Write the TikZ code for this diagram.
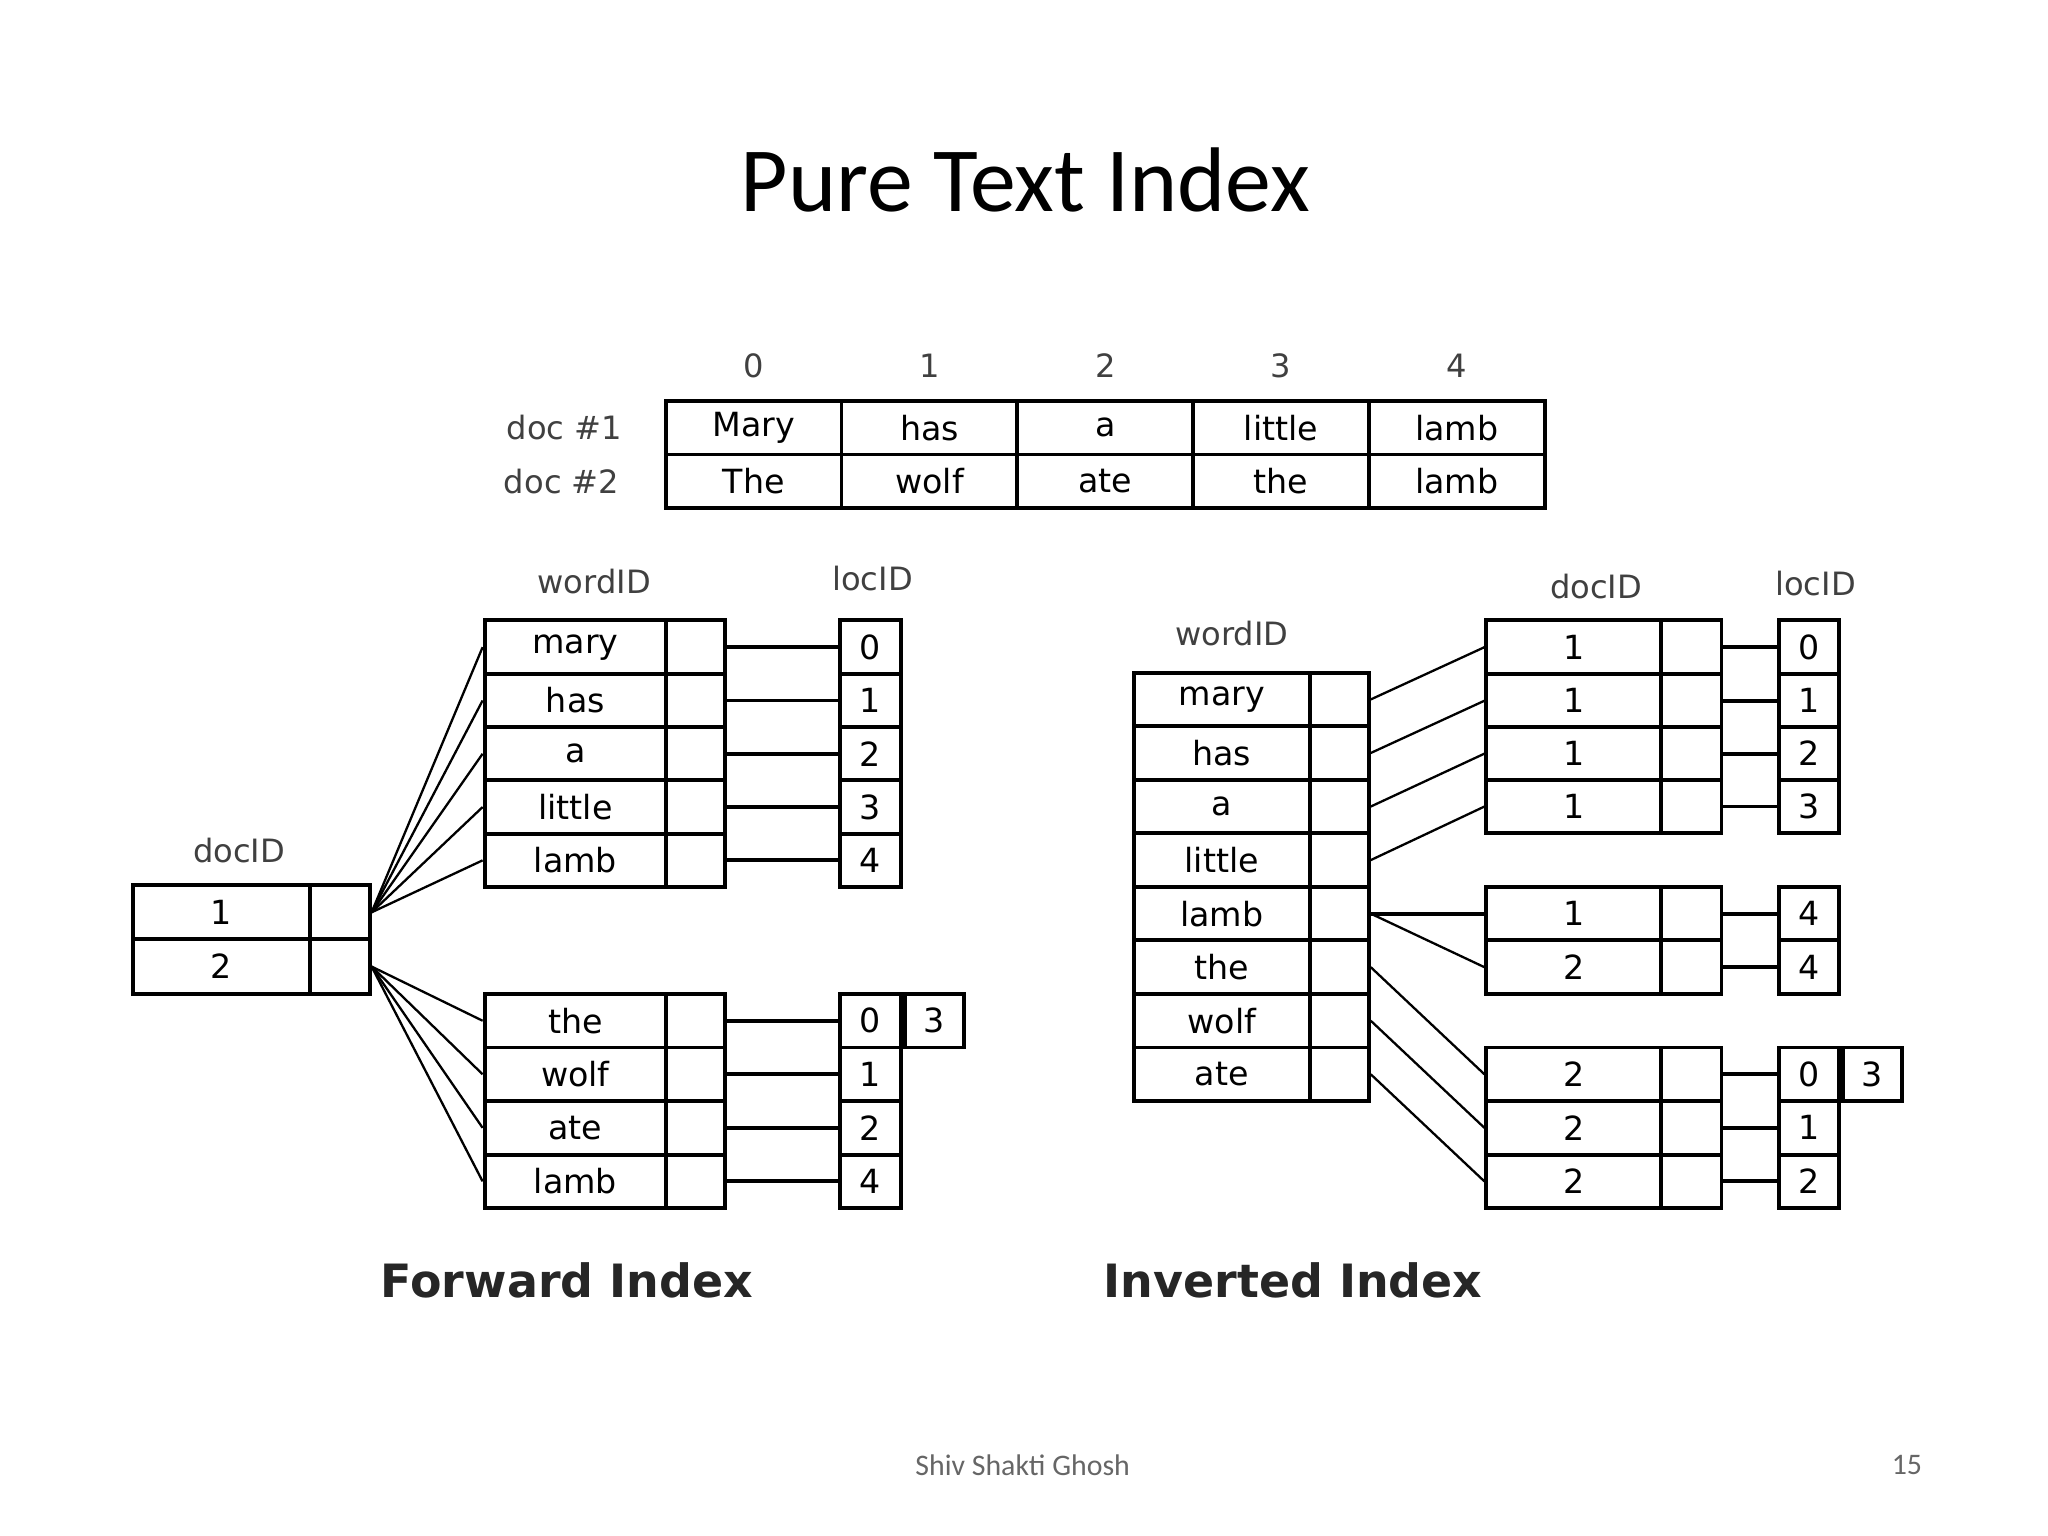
\documentclass[tikz,border=0pt]{standalone}
\usepackage{fontspec}
\setmainfont{DejaVu Sans}
\newfontfamily\carfont{Carlito}
\begin{document}
\begin{tikzpicture}[x=0.02cm,y=-0.02cm,
  cell/.style={draw,line width=1.7pt,inner sep=0pt,font=\fontsize{14.5}{14.5}\selectfont},
  lbl/.style={font=\fontsize{14}{14}\selectfont,text=black!75},
  conn/.style={line width=1.7pt},
  fan/.style={line width=1pt}]
\useasboundingbox (0,0) rectangle (1568,1176);
\node[font=\carfont\fontsize{40}{40}\selectfont] (title) at (785,138) {Pure Text Index};
% top table
\foreach \i in {0,...,4} \node[lbl] (ix\i) at ({577+134.6*\i},280) {\i};
\node[lbl] (d1) at (432,327) {doc \#1};
\node[lbl] (d2) at (430,369) {doc \#2};
\foreach \w [count=\i from 0] in {Mary,has,a,little,lamb}
  \node[cell,minimum width=134.6*0.02cm,minimum height=41*0.02cm] (ta\i) at ({577+134.6*\i},327.5) {\w};
\foreach \w [count=\i from 0] in {The,wolf,ate,the,lamb}
  \node[cell,minimum width=134.6*0.02cm,minimum height=41*0.02cm] (tb\i) at ({577+134.6*\i},368.5) {\w};
% forward index
\node[lbl] (fdl) at (183,651) {docID};
\node[lbl] (fwl) at (455,445) {wordID};
\node[lbl] (fll) at (668,443) {locID};
\foreach \n [count=\i] in {1,2}{
  \node[cell,minimum width=135*0.02cm,minimum height=41.5*0.02cm] (fd\i) at (169.5,{698.5+41.5*(\i-1)}) {\n};
  \node[cell,minimum width=46*0.02cm,minimum height=41.5*0.02cm] (fdp\i) at (260,{698.5+41.5*(\i-1)}) {};}
\foreach \w/\l [count=\i] in {mary/0,has/1,a/2,little/3,lamb/4}{
  \node[cell,minimum width=139*0.02cm,minimum height=41*0.02cm] (fa\i) at (440.5,{495.5+40.8*(\i-1)}) {\w};
  \node[cell,minimum width=45*0.02cm,minimum height=41*0.02cm] (fap\i) at (532.5,{495.5+40.8*(\i-1)}) {};
  \node[cell,minimum width=47*0.02cm,minimum height=41*0.02cm] (fal\i) at (666.5,{495.5+40.8*(\i-1)}) {\l};
  \draw[conn] (fap\i.east) -- (fal\i.west);
  \draw[fan] (fdp1.east) -- (fa\i.west);}
\foreach \w/\l [count=\i] in {the/0,wolf/1,ate/2,lamb/4}{
  \node[cell,minimum width=139*0.02cm,minimum height=41*0.02cm] (fb\i) at (440.5,{781.5+41*(\i-1)}) {\w};
  \node[cell,minimum width=45*0.02cm,minimum height=41*0.02cm] (fbp\i) at (532.5,{781.5+41*(\i-1)}) {};
  \node[cell,minimum width=47*0.02cm,minimum height=41*0.02cm] (fbl\i) at (666.5,{781.5+41*(\i-1)}) {\l};
  \draw[conn] (fbp\i.east) -- (fbl\i.west);
  \draw[fan] (fdp2.east) -- (fb\i.west);}
\node[cell,minimum width=45*0.02cm,minimum height=41*0.02cm,anchor=west] (fbx) at (fbl1.east) {3};
% inverted index
\node[lbl] (iwl) at (943,485) {wordID};
\node[lbl] (idl) at (1222,449) {docID};
\node[lbl] (ill) at (1390,447) {locID};
\foreach \w [count=\i] in {mary,has,a,little,lamb,the,wolf,ate}{
  \node[cell,minimum width=135*0.02cm,minimum height=41*0.02cm] (iw\i) at (935.5,{535.5+41*(\i-1)}) {\w};
  \node[cell,minimum width=45*0.02cm,minimum height=41*0.02cm] (iwp\i) at (1025.5,{535.5+41*(\i-1)}) {};}
\foreach \d/\l/\y [count=\i] in {1/0/495.5,1/1/536.5,1/2/577,1/3/617.5,1/4/699.5,2/4/740.5,2/0/822.5,2/1/863.5,2/2/904.5}{
  \node[cell,minimum width=134*0.02cm,minimum height=41*0.02cm] (id\i) at (1205,\y) {\d};
  \node[cell,minimum width=46*0.02cm,minimum height=41*0.02cm] (idp\i) at (1295,\y) {};
  \node[cell,minimum width=46*0.02cm,minimum height=41*0.02cm] (il\i) at (1385,\y) {\l};
  \draw[conn] (idp\i.east) -- (il\i.west);}
\node[cell,minimum width=45*0.02cm,minimum height=41*0.02cm,anchor=west] (ilx) at (il7.east) {3};
\foreach \a/\b in {1/1,2/2,3/3,4/4,6/7,7/8,8/9}
  \draw[fan] (iwp\a.east) -- (id\b.west);
\draw[conn] (iwp5.east) -- (id5.west);
\draw[fan] (iwp5.east) -- (id6.west);
% captions
\node[font=\bfseries\fontsize{20}{20}\selectfont,text=black!85] (fcap) at (434,980) {Forward Index};
\node[font=\bfseries\fontsize{20}{20}\selectfont,text=black!85] (icap) at (990,980) {Inverted Index};
\node[font=\carfont\fontsize{13}{13}\selectfont,text=black!60] (auth) at (783,1122) {Shiv Shakti Ghosh};
\node[font=\carfont\fontsize{13}{13}\selectfont,text=black!60] (pg) at (1460,1122) {15};
\end{tikzpicture}
\end{document}
